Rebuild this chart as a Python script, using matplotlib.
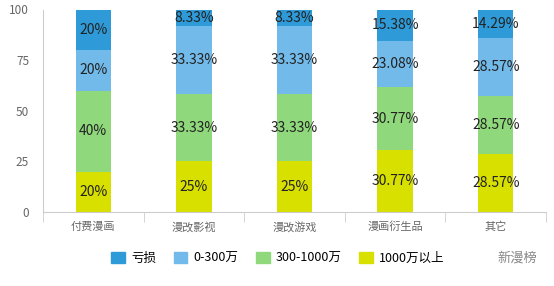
import matplotlib.pyplot as plt
import numpy as np
from matplotlib.patches import Patch

plt.rcParams['font.family'] = ['Noto Sans CJK SC', 'DejaVu Sans']

categories = ['付费漫画', '漫改影视', '漫改游戏', '漫画衍生品', '其它']
series_names = ['亏损', '0-300万', '300-1000万', '1000万以上']
loss = [20, 8.33, 8.33, 15.38, 14.29]
low = [20, 33.33, 33.33, 23.08, 28.57]
mid = [40, 33.33, 33.33, 30.77, 28.57]
high = [20, 25, 25, 30.77, 28.57]
colors = ['#2f9ad8', '#72baea', '#8fd87c', '#d8e000']

fig = plt.figure(figsize=(5.54, 2.86), dpi=100)
ax = fig.add_axes([43 / 554, 1 - 212 / 286, 503 / 554, 202.5 / 286])

x = np.arange(len(categories))
bottom = np.zeros(len(categories))
# stacked from the bottom up
stack = [(high, colors[3]), (mid, colors[2]), (low, colors[1]), (loss, colors[0])]
for vals, c in stack:
    vals = np.array(vals)
    ax.bar(x, vals, 0.35, bottom=bottom, color=c, linewidth=0)
    for xi, b, v in zip(x, bottom, vals):
        ax.text(xi, b + v / 2, f'{v:g}%', ha='center', va='center',
                fontsize=10, color='#222222')
    bottom += vals

ax.set_xlim(-0.5, len(categories) - 0.5)
ax.set_ylim(0, 100)
ax.set_yticks([0, 25, 50, 75, 100])
ax.set_xticks(x)
ax.set_xticklabels(categories)
ax.set_xticks(np.arange(-0.5, len(categories)), minor=True)
ax.tick_params(axis='x', which='major', length=0, labelsize=8, colors='#666666', pad=7)
ax.tick_params(axis='x', which='minor', length=7, color='#cccccc', direction='out')
ax.tick_params(axis='y', length=0, labelsize=8.5, colors='#666666', pad=10)
for s in ['top', 'right']:
    ax.spines[s].set_visible(False)
ax.spines['left'].set_color('#cccccc')
ax.spines['bottom'].set_color('#cccccc')

handles = [Patch(color=c, label=n) for c, n in zip(colors, series_names)]
fig.legend(handles=handles, loc='center', bbox_to_anchor=(278 / 554, 1 - 258 / 286),
           ncol=4, frameon=False, fontsize=9, handlelength=1.1, handleheight=1.0,
           handletextpad=0.5, columnspacing=1.4)

fig.text(497 / 554, 1 - 258 / 286, '新漫榜', fontsize=9.5, color='#888888',
         ha='left', va='center')

fig.savefig('out.png', dpi=100, facecolor='white')
